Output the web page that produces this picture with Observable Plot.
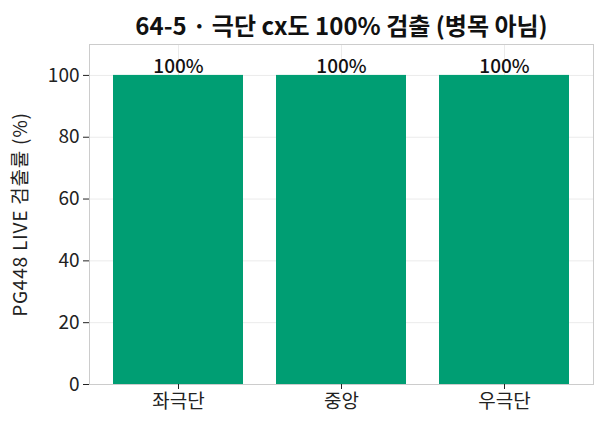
<!DOCTYPE html>
<html>
<head>
<meta charset="utf-8">
<script src="https://cdn.jsdelivr.net/npm/d3@7"></script>
<script src="https://cdn.jsdelivr.net/npm/@observablehq/plot@0.6"></script>
<style>
  html, body { margin: 0; padding: 0; background: #fff; }
  svg { display: block; }
</style>
</head>
<body>
<div id="chart"></div>
<script>
const titleText = "64-5 · 극단 cx도 100% 검출 (병목 아님)";
const yLabel = "PG448 LIVE 검출률 (%)";
const categories = ["좌극단", "중앙", "우극단"];
const rates = [100, 100, 100];
const valueLabels = ["100%", "100%", "100%"];
const yTicks = [0, 20, 40, 60, 80, 100];

const data = categories.map((c, i) => ({ cat: c, rate: rates[i], label: valueLabels[i] }));
const font = "'Noto Sans CJK KR', 'Noto Sans', sans-serif";

const chart = Plot.plot({
  width: 605,
  height: 429,
  marginTop: 44,
  marginBottom: 45,
  marginLeft: 89,
  marginRight: 12,
  style: { fontFamily: font, fontSize: "19px", color: "#222", background: "#fff" },
  x: { domain: categories, paddingInner: 0.2, paddingOuter: 0.14, label: null },
  y: { domain: [0, 110], ticks: yTicks, label: null },
  marks: [
    Plot.gridY(yTicks, { stroke: "#ebebeb", strokeOpacity: 1 }),
    Plot.gridX(categories, { stroke: "#ebebeb", strokeOpacity: 1 }),
    Plot.barY(data, { x: "cat", y: "rate", fill: "#009E73" }),
    Plot.text(data, { x: "cat", y: "rate", text: "label", dy: -9, fontSize: 19, fontWeight: 500, fill: "#111", fontFamily: font }),
    Plot.frame({ stroke: "#cccccc", strokeOpacity: 1 }),
    Plot.axisY(yTicks, { tickSize: 6, tickPadding: 4, fontSize: 19, label: null, fill: "#222" }),
    Plot.axisX(categories, { tickSize: 5, tickPadding: 5, fontSize: 19, label: null, fill: "#222" }),
    Plot.text([titleText], { frameAnchor: "top", dy: -27, fontSize: 24, fontWeight: "bold", fill: "#111", fontFamily: font }),
    Plot.text([yLabel], { frameAnchor: "left", dx: -69, rotate: -90, textAnchor: "middle", fontSize: 19, fill: "#222", fontFamily: font })
  ]
});
d3.select(chart).selectAll("text").filter(function() { return this.textContent === yLabel; })
  .style("letter-spacing", "0.8px");
document.getElementById("chart").appendChild(chart);
</script>
</body>
</html>
